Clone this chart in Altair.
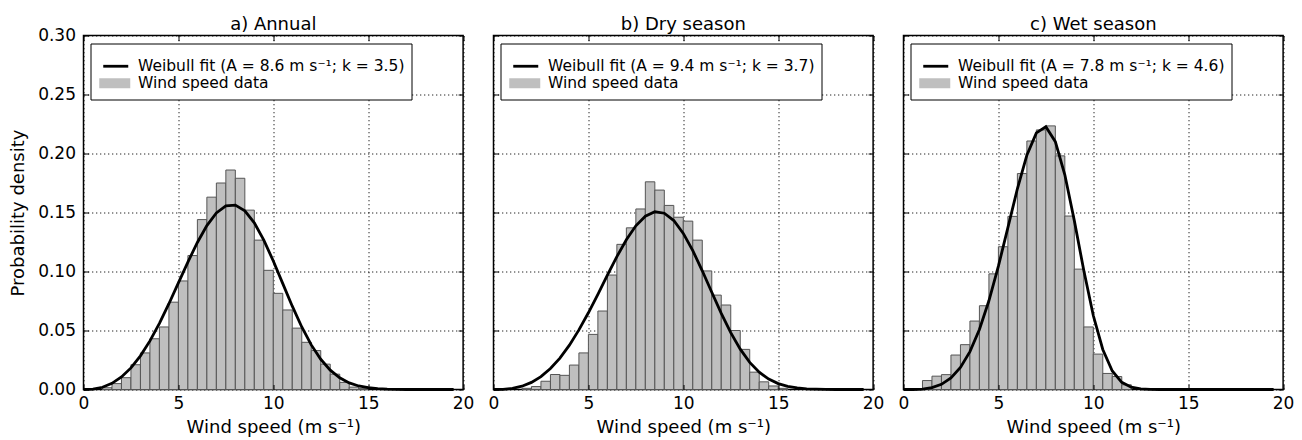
import altair as alt
import pandas as pd

FONT = "DejaVu Sans"

# left edges of the 0.5 m/s histogram bins
bin_edges = [0.0, 0.5, 1.0, 1.5, 2.0, 2.5, 3.0, 3.5, 4.0, 4.5,
             5.0, 5.5, 6.0, 6.5, 7.0, 7.5, 8.0, 8.5, 9.0, 9.5,
             10.0, 10.5, 11.0, 11.5, 12.0, 12.5, 13.0, 13.5, 14.0, 14.5,
             15.0, 15.5, 16.0, 16.5, 17.0, 17.5, 18.0, 18.5, 19.0, 19.5]
BIN_WIDTH = 0.5

annual_density = [0, 0, 0.0015, 0.005, 0.010, 0.021, 0.031, 0.043, 0.053, 0.074,
                  0.092, 0.1135, 0.144, 0.163, 0.175, 0.186, 0.179, 0.152, 0.1266, 0.101,
                  0.0815, 0.0674, 0.052, 0.040, 0.033, 0.0215, 0.013, 0.006, 0.002, 0.001,
                  0, 0, 0, 0, 0, 0, 0, 0, 0, 0]
dry_density = [0, 0, 0, 0.001, 0.0025, 0.007, 0.0127, 0.012, 0.0207, 0.031,
               0.0467, 0.0665, 0.097, 0.123, 0.137, 0.153, 0.176, 0.169, 0.156, 0.146,
               0.1427, 0.1266, 0.1005, 0.080, 0.0716, 0.050, 0.034, 0.0147, 0.0065, 0.003,
               0.001, 0, 0, 0, 0, 0, 0, 0, 0, 0]
wet_density = [0, 0, 0.0076, 0.0113, 0.0126, 0.0292, 0.038, 0.058, 0.071, 0.098,
               0.121, 0.1467, 0.183, 0.2106, 0.220, 0.2234, 0.198, 0.147, 0.102, 0.053,
               0.030, 0.0136, 0.011, 0.004, 0, 0, 0, 0, 0, 0,
               0, 0, 0, 0, 0, 0, 0, 0, 0, 0]

# fitted curve, read at 0.5 m/s steps
curve_x = [0.0, 0.5, 1.0, 1.5, 2.0, 2.5, 3.0, 3.5, 4.0, 4.5,
           5.0, 5.5, 6.0, 6.5, 7.0, 7.5, 8.0, 8.5, 9.0, 9.5,
           10.0, 10.5, 11.0, 11.5, 12.0, 12.5, 13.0, 13.5, 14.0, 14.5,
           15.0, 15.5, 16.0, 16.5, 17.0, 17.5, 18.0, 18.5, 19.0, 19.5]
annual_fit = [0, 0.0003, 0.0019, 0.0052, 0.0106, 0.0183, 0.0285, 0.0412, 0.0561, 0.0727,
              0.0903, 0.1080, 0.1246, 0.1389, 0.1496, 0.1556, 0.1563, 0.1514, 0.1412, 0.1266,
              0.1089, 0.0897, 0.0706, 0.0530, 0.0378, 0.0256, 0.0164, 0.0099, 0.0056, 0.0030,
              0.0015, 0.0007, 0.0003, 0.0001, 0, 0, 0, 0, 0, 0]
dry_fit = [0, 0.0001, 0.0009, 0.0028, 0.0060, 0.0109, 0.0178, 0.0266, 0.0376, 0.0505,
           0.0650, 0.0807, 0.0969, 0.1126, 0.1269, 0.1387, 0.1468, 0.1506, 0.1494, 0.1432,
           0.1323, 0.1177, 0.1006, 0.0824, 0.0645, 0.0482, 0.0342, 0.0230, 0.0147, 0.0088,
           0.0050, 0.0026, 0.0013, 0.0006, 0.0003, 0.0001, 0, 0, 0, 0]
wet_fit = [0, 0, 0.0004, 0.0016, 0.0044, 0.0098, 0.0187, 0.0321, 0.0509, 0.0752,
           0.1045, 0.1372, 0.1701, 0.1986, 0.2175, 0.2227, 0.2100, 0.1820, 0.1431, 0.1008,
           0.0627, 0.0339, 0.0157, 0.0061, 0.0020, 0.0005, 0.0001, 0, 0, 0,
           0, 0, 0, 0, 0, 0, 0, 0, 0, 0]

panel_titles = ["a) Annual", "b) Dry season", "c) Wet season"]
fit_labels = ["Weibull fit (A = 8.6 m s⁻¹; k = 3.5)",
              "Weibull fit (A = 9.4 m s⁻¹; k = 3.7)",
              "Weibull fit (A = 7.8 m s⁻¹; k = 4.6)"]
DATA_LABEL = "Wind speed data"
x_ticks = [0, 5, 10, 15, 20]
y_ticks = [0.0, 0.05, 0.10, 0.15, 0.20, 0.25, 0.30]
X_TITLE = "Wind speed (m s⁻¹)"
Y_TITLE = "Probability density"

BAR_FILL = "#bfbfbf"
BAR_EDGE = "#555555"
# legend glyphs: a short thick line and a flat patch
LINE_GLYPH = "M-0.4,-0.28H4.6V0.28H-0.4Z"
PATCH_GLYPH = "M-1.2,-1H5.0V1H-1.2Z"
TICK_LEN = 5


def inner_ticks(orient, values):
    # matplotlib-classic style ticks pointing into the frame
    return alt.Axis(orient=orient, values=values, labels=False, title=None, grid=False,
                    domain=False, ticks=True, tickSize=TICK_LEN, offset=-TICK_LEN,
                    tickColor="black", tickWidth=1, zindex=1)


def panel(i, density, fit, show_y):
    bars = pd.DataFrame({
        "lo": bin_edges,
        "hi": [e + BIN_WIDTH for e in bin_edges],
        "d": density,
    })
    bars = bars[bars["d"] > 0].assign(base=0.0)
    curve = pd.DataFrame({"x": curve_x, "y": fit})
    keys = pd.DataFrame({"series": [fit_labels[i], DATA_LABEL], "x": [0, 0], "y": [0, 0]})

    xscale = alt.Scale(domain=[0, 20], nice=False, zero=False)
    yscale = alt.Scale(domain=[0, 0.3], nice=False)
    xaxis = alt.Axis(orient="bottom", values=x_ticks, title=X_TITLE, format="d",
                     labelPadding=6, titlePadding=7)
    if show_y:
        yaxis = alt.Axis(orient="left", values=y_ticks, format=".2f", title=Y_TITLE,
                         labelPadding=8, titlePadding=10)
        title_offset = -7.5   # the top y label already sticks out above the frame
    else:
        yaxis = alt.Axis(orient="left", values=y_ticks, labels=False, title=None)
        title_offset = 1.5

    leg = alt.Legend(
        title=" ", titleFontSize=7, titlePadding=1, titleFont=FONT,
        orient="none", legendX=7, legendY=8,
        labelFont=FONT, labelFontSize=15.5, labelColor="black", labelLimit=500,
        labelOffset=25, symbolSize=100, padding=7, rowPadding=0,
        symbolStrokeColor=BAR_EDGE, symbolStrokeWidth=1, symbolOpacity=1,
        strokeColor="black", fillColor="white", cornerRadius=0, zindex=2,
    )
    domain = [fit_labels[i], DATA_LABEL]

    b = alt.Chart(bars).mark_bar(fill=BAR_FILL, stroke=BAR_EDGE, strokeWidth=1, opacity=1).encode(
        x=alt.X("lo:Q", scale=xscale, axis=xaxis),
        x2="hi:Q",
        y=alt.Y("d:Q", scale=yscale, axis=yaxis),
        y2="base:Q",
    )
    ln = alt.Chart(curve).mark_line(color="black", strokeWidth=2.8, interpolate="linear").encode(
        x=alt.X("x:Q", scale=xscale, axis=inner_ticks("bottom", x_ticks)),
        y=alt.Y("y:Q", scale=yscale, axis=inner_ticks("left", y_ticks)),
    )
    key = alt.Chart(keys).mark_point(filled=True, opacity=1, stroke=BAR_EDGE, strokeWidth=1).encode(
        x=alt.X("x:Q", scale=xscale, axis=inner_ticks("top", x_ticks)),
        y=alt.Y("y:Q", scale=yscale, axis=inner_ticks("right", y_ticks)),
        color=alt.Color("series:N", scale=alt.Scale(domain=domain, range=["#000000", BAR_FILL]), legend=leg),
        shape=alt.Shape("series:N", scale=alt.Scale(domain=domain, range=[LINE_GLYPH, PATCH_GLYPH]), legend=leg),
    ).transform_filter("false")

    return alt.layer(b, ln, key).resolve_axis(x="independent", y="independent").properties(
        width=379.6, height=354,
        title=alt.TitleParams(panel_titles[i], font=FONT, fontSize=18, frame="group",
                              fontWeight="normal", color="black", offset=title_offset),
    )


chart = alt.hconcat(
    panel(0, annual_density, annual_fit, True),
    panel(1, dry_density, dry_fit, False),
    panel(2, wet_density, wet_fit, False),
    spacing=30, bounds="flush",
).resolve_scale(color="independent", shape="independent").properties(
    padding={"left": 8.5, "top": 14.5, "right": 5, "bottom": 0},
    background="white",
).configure_view(
    stroke="black", strokeWidth=1.5,
).configure_axis(
    labelFont=FONT, titleFont=FONT, labelFontSize=17, titleFontSize=18,
    labelColor="black", titleColor="black", titleFontWeight="normal",
    grid=True, gridColor="black", gridDash=[1.3, 2.7], gridOpacity=0.85, gridWidth=1,
    domain=False, ticks=False, zindex=1, labelFlush=False, labelOverlap=False,
)

chart.save("out.html", embed_options={"renderer": "svg", "actions": False})
